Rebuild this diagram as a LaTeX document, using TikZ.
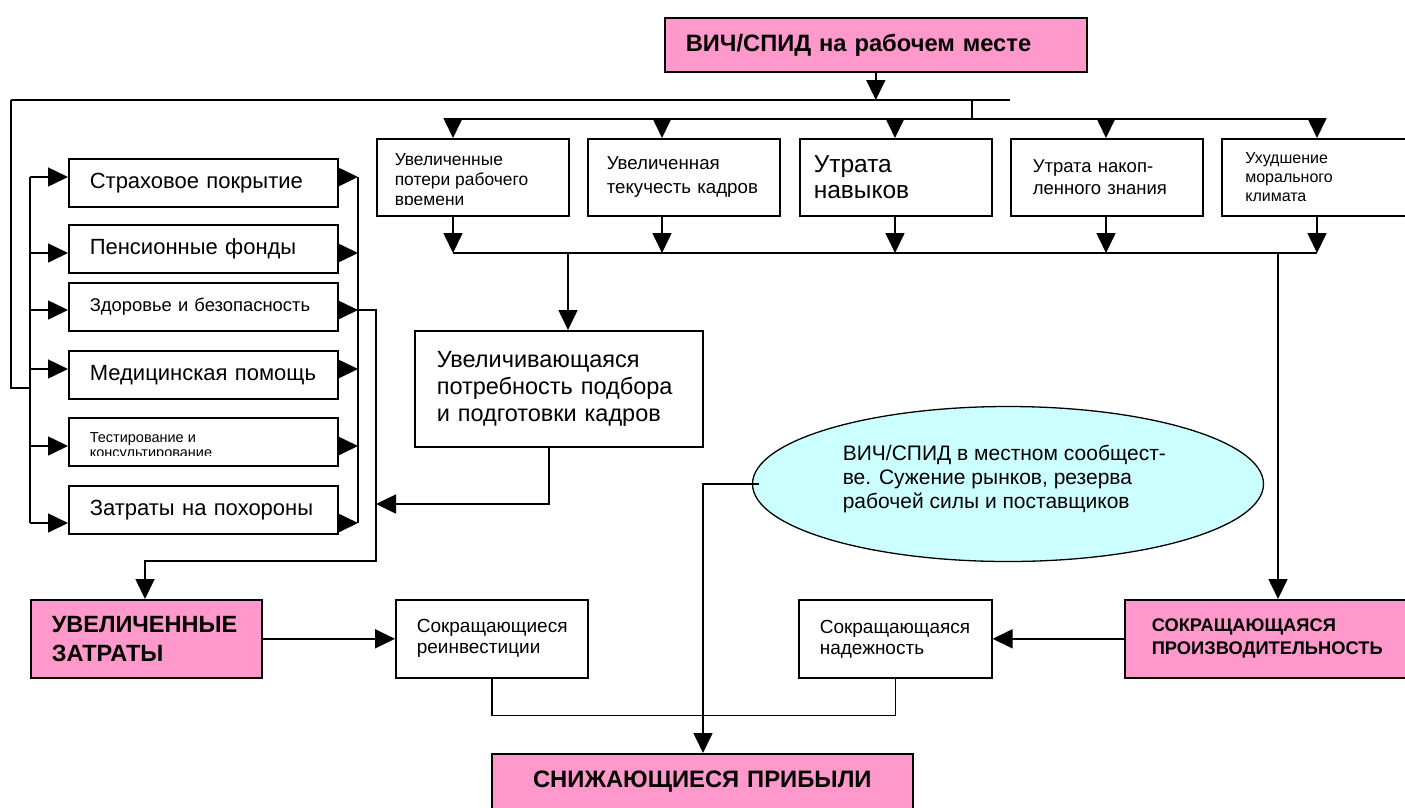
\documentclass[tikz,border=0pt]{standalone}
\usepackage{fontspec}
\setmainfont{Liberation Sans}
\usetikzlibrary{arrows.meta,shapes.geometric}
\definecolor{pinkbox}{HTML}{FF99CC}
\definecolor{cyanbox}{HTML}{CCFFFF}

\begin{document}
\begin{tikzpicture}[
    x=1pt, y=-1pt, line width=1.6pt,
    frame/.style={draw, inner ysep=0pt, align=left, anchor=north west},
    hot/.style={frame, fill=pinkbox},
    sz/.style 2 args={font=\fontsize{#1}{#2}\selectfont},
    bsz/.style 2 args={font=\fontsize{#1}{#2}\selectfont\bfseries},
    arr/.style={-{Triangle[length=20pt,width=19pt]}},
    leftbox/.style={frame, minimum width=269pt, minimum height=48pt, inner xsep=21pt, text width=227pt},
    topbox/.style={frame, minimum width=192pt, minimum height=77pt}
    ]
\useasboundingbox (0,0) rectangle (1405,807);
\clip (0,0) rectangle (1405,807);

%top
\node[hot, bsz={23.7}{28}, minimum width=422pt, minimum height=54pt, inner xsep=21pt, text width=380pt] (hiv) at (664,17) {ВИЧ/СПИД на рабочем месте};

%left column
\node[leftbox, sz={22}{26}] (ins) at (68,158) {Страховое покрытие};
\node[leftbox, sz={22}{26}] (pen) at (68,224) {Пенсионные фонды};
\node[leftbox, sz={18.4}{22}] (zdr) at (68,282) {Здоровье и безопасность};
\node[leftbox, sz={22}{26}] (med) at (68,350) {Медицинская помощь};
\node[leftbox] (tst) at (68,417) {};
\begin{scope}
  \clip (tst.north west) rectangle (337,455);
  \node[sz={14.5}{15}, align=left, anchor=north west, inner sep=0pt] (tsttext) at (89,432) {Тестирование и\\консультирование};
\end{scope}
\node[leftbox, sz={22}{26}] (fun) at (68,485) {Затраты на похороны};

%first row
\node[topbox] (b1) at (376,138) {};
\begin{scope}
  \clip (b1.north west) rectangle (568,204);
  \node[sz={17.4}{20}, align=left, anchor=north west, inner sep=0pt] (b1text) at (394,153) {Увеличенные\\потери рабочего\\времени};
\end{scope}
\node[topbox, sz={18.7}{24}, inner xsep=19pt, text width=154pt] (b2) at (587,138) {Увеличенная\\текучесть кадров};
\node[topbox, sz={24.5}{26}, inner xsep=14pt, text width=164pt] (b3) at (799,138) {Утрата\\навыков};
\node[topbox, sz={18.5}{22}, inner xsep=22pt, text width=148pt] (b4) at (1010,138) {Утрата накоп-\\ленного знания};
\node[topbox, sz={16}{19}, inner xsep=21pt, text width=153pt, minimum width=200pt] (b5) at (1221,138) {Ухудшение\\морального\\климата};

\node[frame, sz={23.5}{27}, minimum width=288pt, minimum height=116pt, inner xsep=22pt, text width=244pt] (need) at (414,330) {Увеличивающаяся\\потребность подбора\\и подготовки кадров};

\node[ellipse, draw, line width=1.3pt, fill=cyanbox, minimum width=511pt, minimum height=155pt] (ell) at (1008,484) {};
\node[sz={21}{24}, align=left, anchor=north west, inner sep=0pt] (elltext) at (842,444) {ВИЧ/СПИД в местном сообщест-\\ве. Сужение рынков, резерва\\рабочей силы и поставщиков};

%bottom row
\node[hot, bsz={23.5}{29}, minimum width=231pt, minimum height=78pt, inner xsep=21pt, text width=189pt] (costs) at (30,599) {УВЕЛИЧЕННЫЕ\\ЗАТРАТЫ};
\node[frame, sz={19}{21}, minimum width=192pt, minimum height=78pt, inner xsep=21pt, text width=150pt] (reinv) at (395,599) {Сокращающиеся\\реинвестиции};
\node[frame, sz={19}{21}, minimum width=193pt, minimum height=78pt, inner xsep=21pt, text width=151pt] (rel) at (798,599) {Сокращающаяся\\надежность};
\node[hot, bsz={18.3}{23}, minimum width=300pt, minimum height=78pt, inner xsep=22pt, text width=246pt] (prod) at (1124,599) {СОКРАЩАЮЩАЯСЯ\\ПРОИЗВОДИТЕЛЬНОСТЬ};
\node[hot, bsz={23.8}{28}, minimum width=421pt, minimum height=56pt, inner xsep=0pt, text width=421pt, align=center] (profit) at (491,753) {СНИЖАЮЩИЕСЯ ПРИБЫЛИ};

% buses
\coordinate (bus1w) at (11,100);
\coordinate (bus1e) at (1010,100);
\coordinate (j1) at (972,100);
\coordinate (bus2w) at (453,119);
\coordinate (bus2e) at (1317,119);
\coordinate (bus3w) at (453,253);
\coordinate (bus3e) at (1317,253);
\draw[arr] (hiv.south) -- (hiv.south |- bus1w);
\draw (bus1w) -- (bus1e);
\draw (j1) -- (j1 |- bus2w);
\draw (bus2w) -- (bus2e);
\draw (bus3w) -- (bus3e);
\foreach \n/\x in {b1/453,b2/662,b3/895,b4/1106,b5/1317}{
  \draw[arr] (\x,119) -- (\n.north -| \x,0);
  \draw[arr] (\n.south -| \x,0) -- (\x,253);
}
\draw[arr] (568,253) -- (need.north -| 568,0);
\draw[arr] (1278,253) -- (prod.north -| 1278,0);

% left side
\draw (bus1w) |- (30,388);
\draw (30,177) -- (30,523);
\draw (358,177) -- (358,523);
\foreach \n/\y in {ins/177,pen/253,zdr/310,med/369,tst/446,fun/523}{
  \draw[arr] (30,\y) -- (\n.west |- 0,\y);
  \draw[arr] (\n.east |- 0,\y) -- (358,\y);
}
\draw[arr] (358,310) -- (376,310) |- (145,561) -- (costs.north -| 145,0);
\draw[arr] (need.south -| 549,0) |- (376,504);

% bottom
\draw[arr] (costs) -- (reinv);
\draw[arr] (prod) -- (rel);
\draw (reinv.south) -- ++(0,37) -| (rel.south);
\draw[arr] ([xshift=7pt]ell.west) -| (profit.north -| 703,0);
\end{tikzpicture}
\end{document}
